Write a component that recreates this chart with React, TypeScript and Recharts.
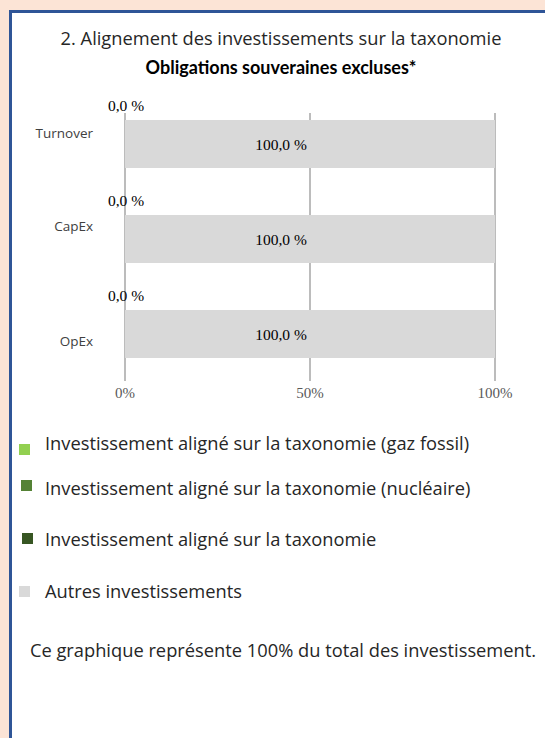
import React from 'react';
import {
    BarChart,
    Bar,
    XAxis,
    YAxis,
    CartesianGrid,
    LabelList,
} from 'recharts';

const categories = ['Turnover', 'CapEx', 'OpEx'];
const gazFossil = [0, 0, 0];
const nucleaire = [0, 0, 0];
const aligne = [0, 0, 0];
const autres = [100, 100, 100];
const xTicks = [0, 50, 100];

const seriesKeys = ['gaz', 'nucleaire', 'aligne', 'autres'];
const seriesNames = [
    'Investissement aligné sur la taxonomie (gaz fossil)',
    'Investissement aligné sur la taxonomie (nucléaire)',
    'Investissement aligné sur la taxonomie',
    'Autres investissements',
];
const seriesColors = ['#92d050', '#548235', '#375623', '#d9d9d9'];

const data = categories.map((name, i) => ({
    name,
    gaz: gazFossil[i],
    nucleaire: nucleaire[i],
    aligne: aligne[i],
    autres: autres[i],
}));

const sans = '"Open Sans", Lato, sans-serif';
const bold = 'Lato, "Open Sans", sans-serif';
const serif = '"Liberation Serif", "DejaVu Serif", serif';

const fmt = (v: number) => v.toFixed(1).replace('.', ',') + ' %';

// category labels in the original sit a little off the band centres
const tickNudge = [-11, -13, 7];
// legend rows are not evenly spaced
const legendRows = [443, 488, 539, 591];
const swatchX = [19, 21, 22, 19];
const swatchY = [449, 485, 538, 591];

const CategoryTick = (props: any) => {
    const { x, y, payload, index } = props;
    return (
        <text
            x={x}
            y={y + (tickNudge[index] || 0)}
            textAnchor='end'
            dominantBaseline='central'
            fontFamily={sans}
            fontSize={13.5}
            fill='#404040'
        >
            {payload.value}
        </text>
    );
};

// the zero segments have no width, so their label is hung off the grey bar's start
const ZeroLabel = (props: any) => {
    const { x, y, value } = props;
    return (
        <text
            x={x + 1}
            y={y - 15}
            textAnchor='middle'
            dominantBaseline='central'
            fontFamily={serif}
            fontSize={15.5}
            fill='#000'
        >
            {fmt(Number(value))}
        </text>
    );
};

const OtherLabel = (props: any) => {
    const { x, y, width, height, value } = props;
    return (
        <text
            x={x + width / 2 - 29}
            y={y + height / 2}
            textAnchor='middle'
            dominantBaseline='central'
            fontFamily={serif}
            fontSize={15.5}
            fill='#000'
        >
            {fmt(Number(value))}
        </text>
    );
};

const LegendBox = () => (
    <>
        {seriesNames.map((n, i) => (
            <React.Fragment key={n}>
                <div
                    style={{
                        position: 'absolute',
                        left: swatchX[i],
                        top: swatchY[i] - 5,
                        width: 11,
                        height: 11,
                        background: seriesColors[i],
                    }}
                />
                <div
                    style={{
                        position: 'absolute',
                        left: 45,
                        top: legendRows[i] - 12,
                        lineHeight: '24px',
                        fontFamily: sans,
                        fontSize: 18.3,
                        color: '#262626',
                        whiteSpace: 'nowrap',
                    }}
                >
                    {n}
                </div>
            </React.Fragment>
        ))}
    </>
);

const App = () => {
    return (
        <div
            style={{
                position: 'absolute',
                left: 0,
                top: 0,
                width: 545,
                height: 738,
                background: '#fce4d6',
                overflow: 'hidden',
            }}
        >
            <div
                style={{
                    position: 'absolute',
                    left: 9,
                    top: 10,
                    width: 536,
                    height: 728,
                    boxSizing: 'border-box',
                    borderTop: '3px solid #2f5597',
                    borderLeft: '3px solid #2f5597',
                    background: '#fff',
                }}
            />
            <div
                style={{
                    position: 'absolute',
                    left: 0,
                    top: 26,
                    width: 562,
                    textAlign: 'center',
                    lineHeight: '24px',
                    fontFamily: sans,
                    fontSize: 18.3,
                    color: '#262626',
                }}
            >
                2. Alignement des investissements sur la taxonomie
            </div>
            <div
                style={{
                    position: 'absolute',
                    left: 0,
                    top: 55,
                    width: 562,
                    textAlign: 'center',
                    lineHeight: '24px',
                    fontFamily: bold,
                    fontSize: 18,
                    fontWeight: 'bold',
                    color: '#000',
                }}
            >
                Obligations souveraines excluses*
            </div>
            <div style={{ position: 'absolute', left: 0, top: 0 }}>
                <BarChart
                    width={545}
                    height={420}
                    data={data}
                    layout='vertical'
                    margin={{ top: 113, right: 50, left: 15, bottom: 9 }}
                    barSize={48}
                >
                    <CartesianGrid
                        horizontal={false}
                        stroke='#a6a6a6'
                        strokeWidth={1.5}
                    />
                    <XAxis
                        type='number'
                        domain={[0, 100]}
                        ticks={xTicks}
                        tickFormatter={(v) => `${v}%`}
                        axisLine={false}
                        tickLine={false}
                        tickSize={6}
                        tickMargin={0}
                        height={30}
                        tick={{ fontFamily: serif, fontSize: 15, fill: '#595959' }}
                    />
                    <YAxis
                        type='category'
                        dataKey='name'
                        width={110}
                        axisLine={false}
                        tickLine={false}
                        tickSize={0}
                        tickMargin={32}
                        padding={{ top: -17, bottom: 0 }}
                        tick={<CategoryTick />}
                    />
                    {seriesKeys.map((k, i) => (
                        <Bar
                            key={k}
                            dataKey={k}
                            name={seriesNames[i]}
                            stackId='a'
                            fill={seriesColors[i]}
                            isAnimationActive={false}
                        >
                            {k === 'autres' && (
                                <LabelList dataKey='aligne' content={<ZeroLabel />} />
                            )}
                            {k === 'autres' && (
                                <LabelList dataKey='autres' content={<OtherLabel />} />
                            )}
                        </Bar>
                    ))}
                </BarChart>
            </div>
            <LegendBox />
            <div
                style={{
                    position: 'absolute',
                    left: 0,
                    top: 638,
                    width: 566,
                    textAlign: 'center',
                    lineHeight: '24px',
                    fontFamily: sans,
                    fontSize: 18.3,
                    color: '#262626',
                }}
            >
                Ce graphique représente 100% du total des investissement.
            </div>
        </div>
    );
};

export default App;
